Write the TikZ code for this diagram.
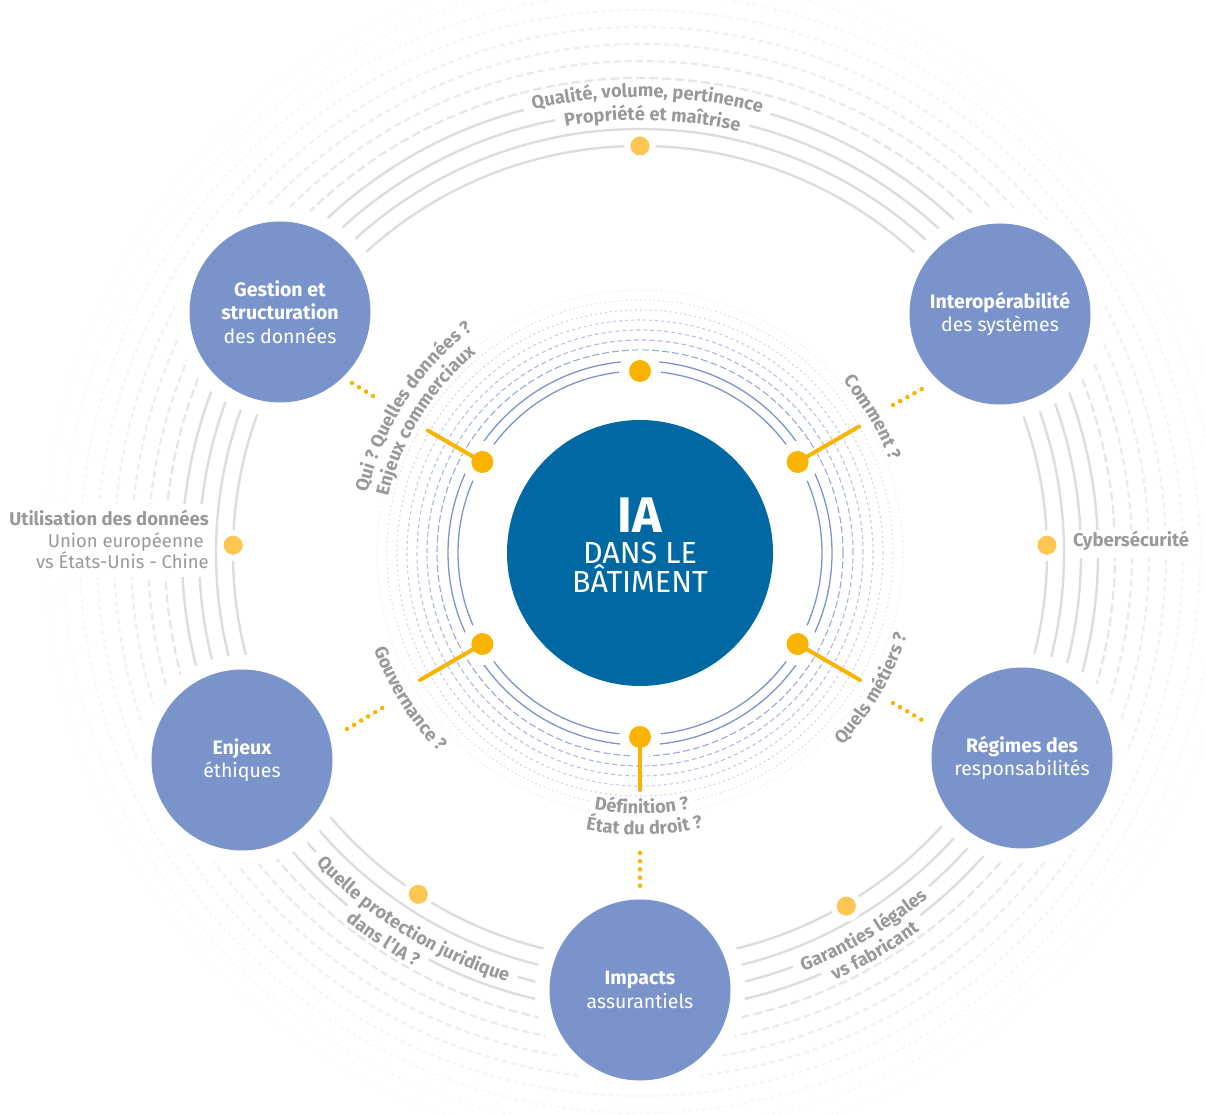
\documentclass[tikz,border=0pt]{standalone}
\usepackage{fontspec}
\setmainfont{Fira Sans}
\usetikzlibrary{decorations.text,calc}
\definecolor{hubblue}{HTML}{0069A3}
\definecolor{satblue}{HTML}{7A94CB}
\definecolor{ylw}{HTML}{F9B300}
\definecolor{ylwl}{HTML}{FDC652}
\definecolor{txtgray}{HTML}{999999}
\definecolor{ringgray}{HTML}{DDDDDD}
\definecolor{ringblue}{HTML}{7C93CB}
\newcommand{\gfont}{\fontsize{18.3}{18}\selectfont\bfseries\color{txtgray}}
\newcommand{\arcTxt}[4]{\path[decorate,decoration={text along path,text align=center,text={|\gfont|#4}}] ($(C)+(#2:#1)$) arc[start angle=#2,end angle=#3,radius=#1];}
\newcommand{\arcStrip}[4]{\draw[white,line width=#4] ($(C)+(#2:#1)$) arc[start angle=#2,end angle=#3,radius=#1];}
\tikzset{
 satnode/.style={circle,fill=satblue,minimum size=181pt,inner sep=0pt,text=white,align=center,font=\fontsize{19.5}{23.5}\selectfont,preaction={draw=white,line width=29pt}},
 hubnode/.style={circle,fill=hubblue,minimum size=266pt,inner sep=0pt},
 idot/.style={circle,fill=ylw,minimum size=22pt,inner sep=0pt,preaction={draw=white,line width=20pt}},
 odot/.style={circle,fill=ylwl,minimum size=19pt,inner sep=0pt,preaction={draw=white,line width=12pt}},
 ystem/.style={ylw,line width=4pt,line cap=round},
 dotline/.style={ylw,line width=4.5pt,line cap=round,dash pattern=on 0pt off 8.2pt},
 outsolid/.style={ringgray,line width=2.4pt},
 insolid/.style={ringblue,line width=1.3pt},
 graytxt/.style={inner sep=0pt,text=txtgray,font=\fontsize{18.5}{18}\selectfont},
}
\begin{document}
\begin{tikzpicture}[x=1pt,y=1pt]
\clip (0,0) rectangle (1206,1114);
\coordinate (C) at (640,561);
% outer rings
\foreach \rr in {407,424,441,458} \draw[outsolid] (C) circle[radius=\rr];
\foreach \rr/\op/\dl in {475/0.75/9pt,492/0.6/7pt,509/0.5/6pt,526/0.4/5pt,543/0.32/4pt,560/0.25/3pt,577/0.18/2.5pt,594/0.13/2pt}
  \draw[ringgray,line width=2.2pt,opacity=\op,dash pattern=on \dl off 4pt] (C) circle[radius=\rr];
% inner rings
\foreach \rr in {182,192} \draw[insolid] (C) circle[radius=\rr];
\foreach \rr/\op/\dl in {203/0.8/7pt,213/0.65/5pt,223/0.55/4pt,233/0.45/3pt,243/0.38/2pt,253/0.3/1.5pt,263/0.22/1pt}
  \draw[ringblue,line width=1.1pt,opacity=\op,dash pattern=on \dl off 3pt] (C) circle[radius=\rr];
% satellites (with white halo)
\node[satnode] (gest) at (280,802) {\textbf{Gestion et}\\\textbf{structuration}\\des données};
\node[satnode] (inter) at (1000,800) {\textbf{Interopérabilité}\\des systèmes};
\node[satnode] (enj) at (242,354) {\textbf{Enjeux}\\éthiques};
\node[satnode] (reg) at (1022,356) {\textbf{Régimes des}\\responsabilités};
\node[satnode] (imp) at (640,124) {\textbf{Impacts}\\assurantiels};
% outer dots
\node[odot] (o1) at ($(C)+(90:407)$) {};
\node[odot] (o2) at ($(C)+(178.9:407)$) {};
\node[odot] (o3) at ($(C)+(1.1:407)$) {};
\node[odot] (o4) at ($(C)+(237:407)$) {};
\node[odot] (o5) at ($(C)+(300.3:409)$) {};
% inner dots
\node[idot] (i1) at ($(C)+(90:182)$) {};
\node[idot] (i2) at ($(C)+(30:182)$) {};
\node[idot] (i3) at ($(C)+(150:182)$) {};
\node[idot] (i4) at ($(C)+(210:182)$) {};
\node[idot] (i5) at ($(C)+(330:182)$) {};
\node[idot] (i6) at ($(C)+(270:184)$) {};
% white strips behind curved texts
\arcStrip{462}{104.66}{73.46}{18pt}
\arcStrip{439}{101.05}{75.65}{18pt}
\arcStrip{443}{222.7}{253.9}{18pt}
\arcStrip{465}{230.3}{242.5}{18pt}
\arcStrip{443}{290.3}{310.9}{18pt}
\arcStrip{464}{293.3}{307.7}{18pt}
\arcStrip{284}{126.8}{167.6}{16pt}
\arcStrip{264}{127.6}{169.2}{16pt}
\arcStrip{272}{18.9}{41.7}{16pt}
\arcStrip{277}{198.9}{225.7}{16pt}
\arcStrip{273}{315.4}{344}{16pt}
\arcStrip{255}{258.6}{282.2}{16pt}
\arcStrip{276}{257.4}{284.4}{16pt}
% curved texts
\arcTxt{456}{125.06}{53.06}{Qualité, volume, pertinence}
\arcTxt{433}{124.35}{52.35}{Propriété et maîtrise}
\arcTxt{449}{198.3}{278.3}{Quelle protection juridique}
\arcTxt{471}{196.4}{276.4}{dans l'IA ?}
\arcTxt{449}{260.6}{340.6}{Garanties légales}
\arcTxt{470}{260.5}{340.5}{vs fabricant}
\arcTxt{279}{187.2}{107.2}{Qui ? Quelles données ?}
\arcTxt{258}{188.4}{108.4}{Enjeux commerciaux}
\arcTxt{266}{70.3}{-9.7}{Comment ?}
\arcTxt{283}{172.3}{252.3}{Gouvernance ?}
\arcTxt{279}{289.7}{369.7}{Quels métiers ?}
\arcTxt{261}{230.4}{310.4}{Définition ?}
\arcTxt{282}{230.9}{310.9}{État du droit ?}
% straight side texts
\fill[white] (4,537) rectangle (214,610);
\node[graytxt,anchor=base east,font=\fontsize{18.5}{18}\selectfont\bfseries] (u1) at (209,588) {Utilisation des données};
\node[graytxt,anchor=base east] (u2) at (204,566) {Union européenne};
\node[graytxt,anchor=base east] (u3) at (209,545) {vs États-Unis - Chine};
\fill[white] (1066,556) rectangle (1200,584);
\node[graytxt,anchor=base west,font=\fontsize{18.5}{18}\selectfont\bfseries] (cyb) at (1073,567) {Cybersécurité};
% yellow stems
\coordinate (s2) at ($(C)+(30:253)$);
\coordinate (s3) at ($(C)+(150:245)$);
\coordinate (s4) at ($(C)+(210:254)$);
\coordinate (s5) at ($(C)+(330:254)$);
\coordinate (s6) at ($(C)+(270:237)$);
\draw[ystem] (i2) -- (s2);
\draw[ystem] (i3) -- (s3);
\draw[ystem] (i4) -- (s4);
\draw[ystem] (i5) -- (s5);
\draw[ystem] (i6) -- (s6);
% dotted connectors
\coordinate (g1) at (352,731); \coordinate (g2) at (373,718);
\coordinate (n1) at (893,709); \coordinate (n2) at (922,725);
\coordinate (e1) at (347,385); \coordinate (e2) at (382.5,406.2);
\coordinate (r1) at (893,411); \coordinate (r2) at (922,394);
\coordinate (b1) at (640,261); \coordinate (b2) at (640,228);
\draw[dotline] (g1) -- (g2);
\draw[dotline] (n1) -- (n2);
\draw[dotline] (e1) -- (e2);
\draw[dotline] (r1) -- (r2);
\draw[dotline] (b1) -- (b2);
% hub
\node[hubnode] (hub) at (C) {};
\node[text=white,align=center,font=\fontsize{30.5}{29}\selectfont,inner sep=0pt] (hubtxt) at ($(C)+(0,8)$) {{\fontsize{50}{50}\selectfont\bfseries IA}\\[2pt]DANS LE\\BÂTIMENT};
\end{tikzpicture}
\end{document}
